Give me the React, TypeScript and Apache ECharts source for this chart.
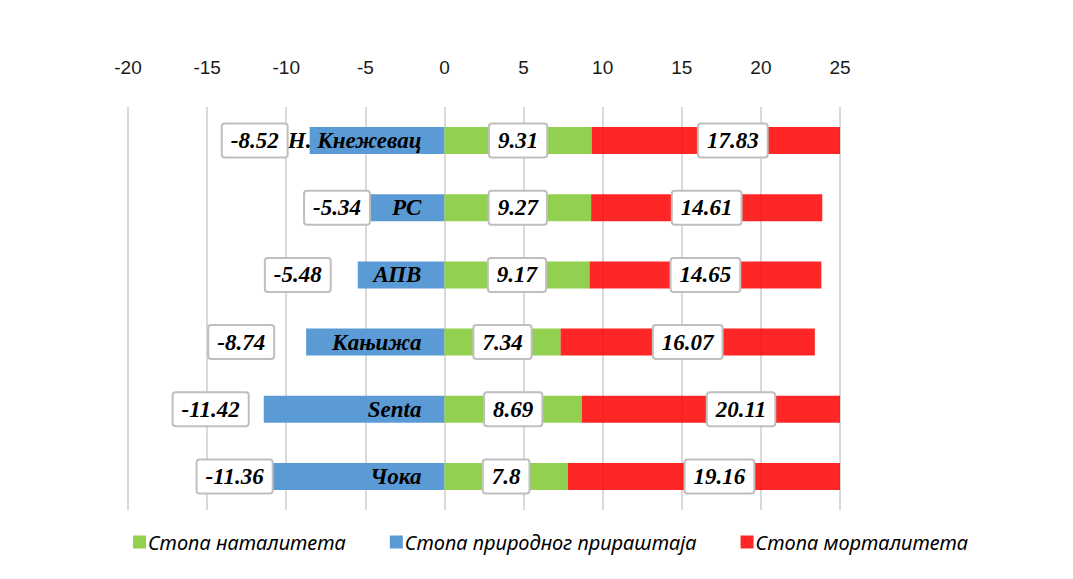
import React, { useEffect, useRef } from "react";
import * as echarts from "echarts";

const categories = ["Н. Кнежевац", "РС", "АПВ", "Кањижа", "Senta", "Чока"];
const natalitet = [9.31, 9.27, 9.17, 7.34, 8.69, 7.8];
const prirastaj = [-8.52, -5.34, -5.48, -8.74, -11.42, -11.36];
const mortalitet = [17.83, 14.61, 14.65, 16.07, 20.11, 19.16];
const xTicks = { min: -20, max: 25, interval: 5 };

// label placement tweaks (layout only, px)
const blueLabelShift = [-23, 9, -28, -33, -16, 7];

const W = 1073;
const H = 579;
const GRID = { left: 128, right: 233, top: 107, bottom: 69 };

const serifLabel = {
  fontFamily: "'Liberation Serif', serif",
  fontStyle: "italic" as const,
  fontWeight: "bold" as const,
  fontSize: 23,
  lineHeight: 24,
  color: "#000",
};

const boxLabel = {
  ...serifLabel,
  backgroundColor: "#fff",
  borderColor: "#BFBFBF",
  borderWidth: 2,
  borderRadius: 2,
  padding: [4, 8, 4, 8],
};

export default function App() {
  const ref = useRef<HTMLDivElement>(null);
  useEffect(() => {
    if (!ref.current) return;
    const chart = echarts.init(ref.current, null, { renderer: "svg" });
    const gridW = W - GRID.left - GRID.right;
    const pxPerUnit = gridW / (xTicks.max - xTicks.min);

    const redData = mortalitet.map((v, i) => {
      const start = natalitet[i];
      const end = start + v;
      const over = Math.max(0, end - xTicks.max);
      return {
        value: v,
        label: { offset: [(over / 2) * pxPerUnit, 0] },
      };
    });

    const blueValueData = prirastaj.map((v, i) => ({
      value: v,
      label: { offset: [blueLabelShift[i], 0] },
    }));

    chart.setOption({
      animation: false,
      backgroundColor: "#fff",
      grid: { ...GRID, outerBoundsMode: "none", containLabel: false },
      legend: {
        data: ["Стопа наталитета", "Стопа природног прираштаја", "Стопа морталитета"],
        left: 133,
        top: 532,
        padding: 0,
        itemWidth: 13,
        itemHeight: 13,
        itemGap: 44,
        icon: "rect",
        textStyle: {
          fontFamily: "'Noto Sans', sans-serif",
          fontStyle: "italic",
          fontSize: 20,
          color: "#000",
          padding: [0, 0, 0, -3],
        },
      },
      xAxis: {
        type: "value",
        position: "top",
        min: xTicks.min,
        max: xTicks.max,
        interval: xTicks.interval,
        axisLine: { show: false },
        axisTick: { show: false },
        axisLabel: {
          margin: 30,
          fontFamily: "'Liberation Sans', sans-serif",
          fontSize: 19,
          color: "#1a1a1a",
        },
        splitLine: { show: true, lineStyle: { color: "#D9D9D9", width: 2 } },
      },
      yAxis: {
        type: "category",
        data: categories,
        inverse: true,
        axisLine: { show: false },
        axisTick: { show: false },
        splitLine: { show: false },
        axisLabel: { show: false },
      },
      series: [
        {
          name: "Стопа природног прираштаја",
          type: "bar",
          stack: "total",
          barWidth: 27,
          barGap: "-100%",
          itemStyle: { color: "#5B9BD5" },
          label: {
            show: true,
            position: "insideRight",
            distance: 23,
            formatter: (p: any) => p.name,
            ...serifLabel,
          },
          data: prirastaj,
        },
        {
          name: "Стопа наталитета",
          type: "bar",
          stack: "total",
          barWidth: 27,
          barGap: "-100%",
          itemStyle: { color: "#92D050" },
          label: {
            show: true,
            position: "inside",
            formatter: (p: any) => String(p.value),
            ...boxLabel,
          },
          data: natalitet,
        },
        {
          name: "Стопа морталитета",
          type: "bar",
          stack: "total",
          barWidth: 27,
          barGap: "-100%",
          itemStyle: { color: "rgba(255,0,0,0.85)" },
          label: {
            show: true,
            position: "inside",
            formatter: (p: any) => String(p.value),
            ...boxLabel,
          },
          data: redData,
        },
        {
          name: "prirastajValue",
          type: "bar",
          barWidth: 27,
          barGap: "-100%",
          itemStyle: { color: "rgba(0,0,0,0)" },
          silent: true,
          label: {
            show: true,
            position: "left",
            distance: 0,
            formatter: (p: any) => String(p.value),
            ...boxLabel,
          },
          data: blueValueData,
        },
      ],
    });
    return () => chart.dispose();
  }, []);
  return (
    <div
      ref={ref}
      style={{ position: "absolute", left: 0, top: 0, width: W, height: H }}
    />
  );
}
